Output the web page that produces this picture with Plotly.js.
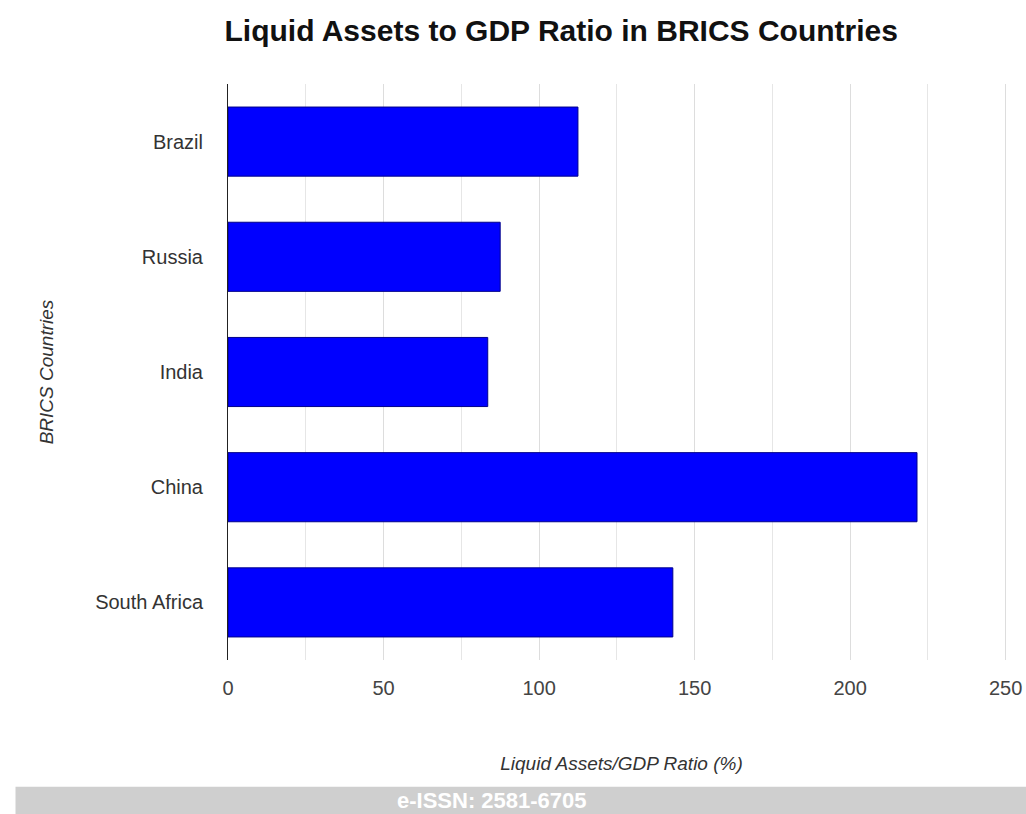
<!DOCTYPE html>
<html>
<head>
<meta charset="utf-8">
<script src="https://cdn.plot.ly/plotly-3.0.1.min.js"></script>
<style>
  html, body { margin: 0; padding: 0; background: #ffffff; }
  #chart { width: 1026px; height: 814px; }
</style>
</head>
<body>
<div id="chart"></div>
<script>
const countries = ["Brazil", "Russia", "India", "China", "South Africa"];
const liquidAssetsRatio = [112.5, 87.5, 83.5, 221.5, 143];
const xTickValues = [0, 50, 100, 150, 200, 250];
const xTickLabels = ["0", "50", "100", "150", "200", "250"];

const trace = {
  type: "bar",
  orientation: "h",
  y: countries,
  x: liquidAssetsRatio,
  marker: { color: "#0000ff", line: { color: "#00008b", width: 1 } },
  hoverinfo: "x+y"
};

const layout = {
  width: 1026,
  height: 814,
  paper_bgcolor: "#ffffff",
  plot_bgcolor: "#ffffff",
  margin: { l: 228, r: 11, t: 84, b: 154 },
  bargap: 0.4,
  showlegend: false,
  font: { family: "Liberation Sans, Arial, sans-serif", color: "#333333" },
  title: {
    text: "<b>Liquid Assets to GDP Ratio in BRICS Countries</b>",
    font: { family: "Liberation Sans, Arial, sans-serif", size: 30, color: "#111111" },
    xref: "container", yref: "container",
    x: 0.547, xanchor: "center",
    y: 0.962, yanchor: "middle"
  },
  xaxis: {
    range: [0, 253],
    tickvals: xTickValues,
    ticktext: xTickLabels,
    showgrid: true,
    gridcolor: "#dddddd",
    gridwidth: 1,
    minor: { dtick: 25, showgrid: true, gridcolor: "#e6e6e6", gridwidth: 1 },
    zeroline: false,
    showline: false,
    ticks: "outside",
    ticklen: 10,
    tickcolor: "rgba(0,0,0,0)",
    tickfont: { size: 20, color: "#444444" },
    title: {
      text: "<i>Liquid Assets/GDP Ratio (%)</i>",
      font: { size: 19, color: "#333333" },
      standoff: 58
    },
    fixedrange: true
  },
  yaxis: {
    autorange: "reversed",
    showline: true,
    linecolor: "#222222",
    linewidth: 1,
    showgrid: false,
    ticks: "outside",
    ticklen: 20,
    tickcolor: "rgba(0,0,0,0)",
    tickfont: { size: 20, color: "#333333" },
    title: {
      text: "<i>BRICS Countries</i>",
      font: { size: 19, color: "#333333" },
      standoff: 36
    },
    fixedrange: true
  },
  shapes: [
    {
      type: "rect", xref: "paper", yref: "paper",
      x0: -0.27, x1: 1.02, y0: -0.22, y1: -0.27,
      fillcolor: "#cfcfcf", line: { width: 0 }, layer: "below"
    }
  ],
  annotations: [
    {
      text: "<b>e-ISSN: 2581-6705</b>",
      xref: "paper", yref: "paper",
      x: 0.335, xanchor: "center",
      y: -0.2435, yanchor: "middle",
      showarrow: false,
      font: { size: 22, color: "#ffffff", family: "Liberation Sans Narrow, Liberation Sans, Arial, sans-serif" }
    }
  ]
};

Plotly.newPlot("chart", [trace], layout, { displayModeBar: false, staticPlot: true });
</script>
</body>
</html>
